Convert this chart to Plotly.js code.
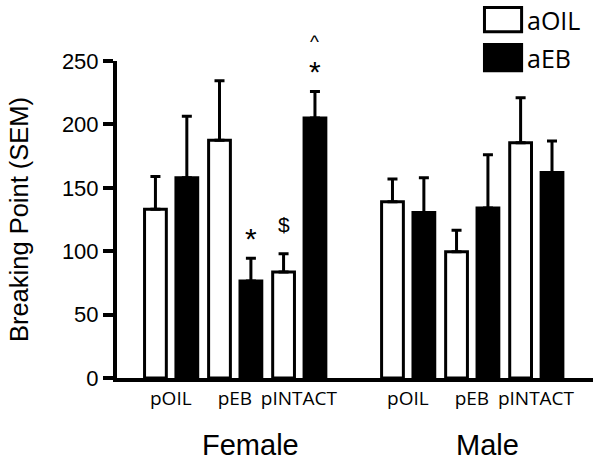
<!DOCTYPE html>
<html>
<head>
<meta charset="utf-8">
<script src="https://cdn.plot.ly/plotly-3.0.1.min.js"></script>
<style>html,body{margin:0;padding:0;background:#fff;}#chart{width:602px;height:463px;}</style>
</head>
<body>
<div id="chart"></div>
<script>
// ---- data ----
const groups = ["Female", "Male"];
const treatments = ["pOIL", "pEB", "pINTACT"];
const seriesNames = ["aOIL", "aEB"];
// order: Female pOIL, pEB, pINTACT, Male pOIL, pEB, pINTACT
const aOILMean = [133, 187.5, 83.5, 139, 99.5, 185.5];
const aOILSem  = [26, 47, 14.5, 18, 17, 35.5];
const aEBMean  = [158, 76.5, 205, 130.5, 134, 162];
const aEBSem   = [48.5, 18, 21, 27.5, 42, 25];
// significance marks: category index, series index, symbol
const markCat    = [1, 2, 2, 2];
const markSeries = [1, 0, 1, 1];
const markText   = ["*", "$", "*", "^"];

// ---- layout helpers ----
const groupGap = 0.7;
const xs = [];
const xLabels = [];
groups.forEach((g, gi) => treatments.forEach((t, ti) => {
  xs.push(gi * (treatments.length + groupGap) + ti);
  xLabels.push(t);
}));
const barW = 0.34;

function barTrace(name, mean, sem, fill, offset) {
  return {
    type: 'bar', name: name, x: xs, y: mean,
    width: barW, offset: offset,
    marker: {color: fill, line: {color: '#000', width: 3}},
    error_y: {type: 'data', array: sem, arrayminus: sem.map(() => 0), symmetric: false,
              color: '#000', thickness: 3, width: 5},
    showlegend: false, hoverinfo: 'skip'
  };
}

const traces = [
  barTrace(seriesNames[0], aOILMean, aOILSem, '#fff', -0.41),
  barTrace(seriesNames[1], aEBMean, aEBSem, '#000', 0.08)
];

const means = [aOILMean, aEBMean];
const sems = [aOILSem, aEBSem];
const seriesCenter = [-0.41 + barW / 2, 0.08 + barW / 2];

const annotations = [];
markText.forEach((txt, i) => {
  const c = markCat[i], s = markSeries[i];
  annotations.push({
    x: xs[c] + seriesCenter[s], y: means[s][c] + sems[s][c],
    xref: 'x', yref: 'y', text: txt, showarrow: false,
    yanchor: 'bottom', yshift: (txt === '^' ? 37 : (txt === '$' ? 16 : 1)),
    font: {family: 'Liberation Sans, Arial, sans-serif', size: txt === '$' ? 21 : (txt === '^' ? 19 : 30), color: '#000'}
  });
});

// group labels under the axis
groups.forEach((g, gi) => {
  const first = xs[gi * treatments.length];
  const last = xs[gi * treatments.length + treatments.length - 1];
  annotations.push({
    x: (first + last) / 2 + 0.25, y: -0.21, xref: 'x', yref: 'paper',
    text: g, showarrow: false, yanchor: 'middle',
    font: {family: 'Liberation Sans, Arial, sans-serif', size: 29, color: '#000'}
  });
});

// custom legend (large swatches)
const shapes = [];
const legendFills = ['#fff', '#000'];
const legendRows = [[1.169, 1.092], [1.052, 0.969]];
seriesNames.forEach((n, i) => {
  shapes.push({type: 'rect', xref: 'paper', yref: 'paper',
    x0: 0.772, x1: 0.850, y0: legendRows[i][1], y1: legendRows[i][0],
    fillcolor: legendFills[i], line: {color: '#000', width: 3}});
  annotations.push({x: 0.858, y: (legendRows[i][0] + legendRows[i][1]) / 2,
    xref: 'paper', yref: 'paper', text: n, showarrow: false,
    xanchor: 'left', yanchor: 'middle',
    font: {family: 'Open Sans, Noto Sans, sans-serif', size: 25, color: '#000'}});
});

const layout = {
  width: 602, height: 463,
  margin: {l: 117, r: 9, t: 61, b: 85},
  paper_bgcolor: '#fff', plot_bgcolor: '#fff',
  showlegend: false,
  barmode: 'overlay',
  xaxis: {
    range: [-0.84, 6.59], showgrid: false, zeroline: false,
    showline: true, linecolor: '#000', linewidth: 4,
    tickmode: 'array', tickvals: xs, ticktext: xLabels, ticks: '',
    tickfont: {family: 'Open Sans, Noto Sans, sans-serif', size: 19, color: '#000'},
    fixedrange: true
  },
  yaxis: {
    range: [0, 250], showgrid: false, zeroline: false,
    showline: true, linecolor: '#000', linewidth: 4,
    tickmode: 'linear', tick0: 0, dtick: 50,
    ticks: 'outside', ticklen: 10, tickwidth: 4, tickcolor: '#000',
    tickfont: {family: 'Liberation Sans, Arial, sans-serif', size: 22, color: '#000'},
    title: {text: 'Breaking Point (SEM)', standoff: 27,
            font: {family: 'Liberation Sans, Arial, sans-serif', size: 25.5, color: '#000'}},
    fixedrange: true
  },
  annotations: annotations,
  shapes: shapes
};

Plotly.newPlot('chart', traces, layout, {displayModeBar: false, staticPlot: true});
</script>
</body>
</html>
